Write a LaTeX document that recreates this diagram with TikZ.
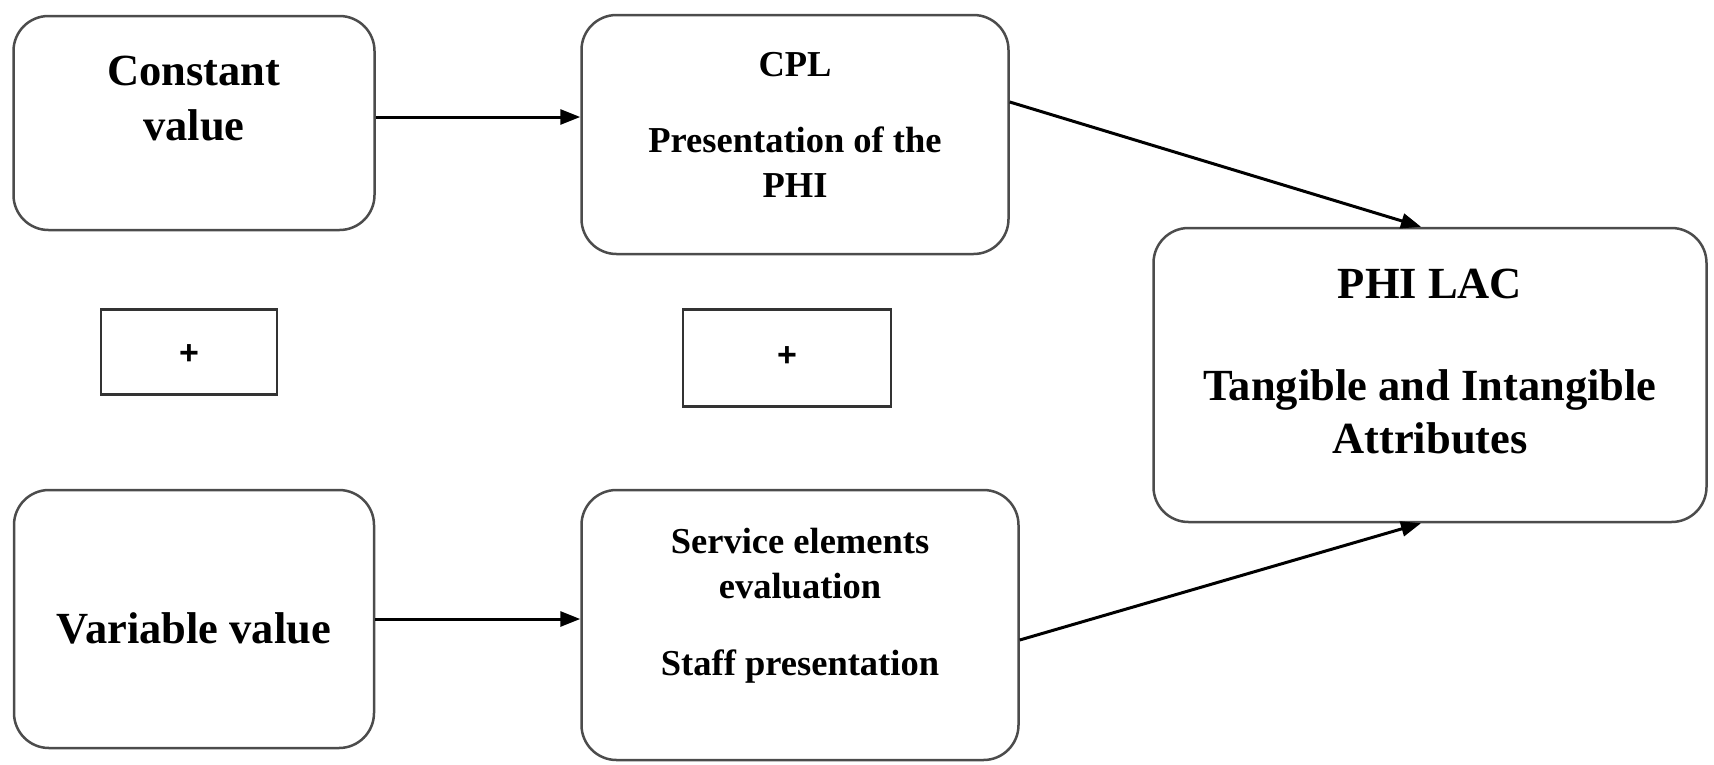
\documentclass[tikz,border=0pt]{standalone}
\usepackage{fontspec}
\setmainfont{Liberation Serif}
\newfontfamily\plusfont{Liberation Sans}
\usetikzlibrary{arrows.meta}
\newcommand\bigtxt{\fontsize{44.5}{52}\selectfont\bfseries}
\newcommand\smalltxt{\fontsize{36.5}{44}\selectfont\bfseries}
\tikzset{
  roundbox/.style={draw=black!70, line width=2.5pt, rounded corners=35pt, inner sep=0pt},
  plusbox/.style={draw=black!80, line width=2.5pt, inner sep=0pt},
  bigt/.style={anchor=base, inner sep=0pt, font=\bigtxt},
  smallt/.style={anchor=base, inner sep=0pt, font=\smalltxt},
  plust/.style={inner sep=0pt, font=\plusfont\fontsize{34}{40}\selectfont\bfseries},
  arr/.style={draw=black, line width=3pt, -{Triangle[length=20pt,width=15pt]}}
}
\begin{document}
\begin{tikzpicture}[x=1pt,y=-1pt]
\useasboundingbox (0,0) rectangle (1714,764);
% boxes
\node[roundbox, minimum width=361pt, minimum height=214pt] (b1) at (194,123) {};
\node[roundbox, minimum width=427pt, minimum height=239pt] (b2) at (795,134.5) {};
\node[roundbox, minimum width=553pt, minimum height=294pt] (b3) at (1430,375) {};
\node[roundbox, minimum width=360pt, minimum height=258pt] (b4) at (194,619) {};
\node[roundbox, minimum width=437pt, minimum height=270pt] (b5) at (800,625) {};
\node[plusbox, minimum width=176pt, minimum height=85pt] (p1) at (189,352) {};
\node[plusbox, minimum width=208pt, minimum height=97pt] (p2) at (787,358) {};
% texts
\node[bigt] (t1a) at (194,85) {Constant};
\node[bigt] (t1b) at (194,140) {value};
\node[smallt] (t2a) at (795,76) {CPL};
\node[smallt] (t2b) at (795,152) {Presentation of the};
\node[smallt] (t2c) at (795,197) {PHI};
\node[bigt] (t3a) at (1430,298) {PHI LAC};
\node[bigt] (t3b) at (1430,400) {Tangible and Intangible};
\node[bigt] (t3c) at (1430,453) {Attributes};
\node[bigt] (t4a) at (194,643) {Variable value};
\node[smallt] (t5a) at (800,553) {Service elements};
\node[smallt] (t5b) at (800,598) {evaluation};
\node[smallt] (t5c) at (800,675) {Staff presentation};
\node[plust] (pl1) at (189,355) {+};
\node[plust] (pl2) at (787,357) {+};
% connectors
\draw[arr] ([yshift=6pt]b1.east) -- ([yshift=6pt]b1.east -| b2.west);
\draw[arr] (b4.east) -- (b4.east -| b5.west);
\draw[arr] ([yshift=32.5pt]b2.east) -- ([xshift=-9pt]b3.north);
\draw[arr] ([yshift=-15pt]b5.east) -- ([xshift=-9pt]b3.south);
\end{tikzpicture}
\end{document}
